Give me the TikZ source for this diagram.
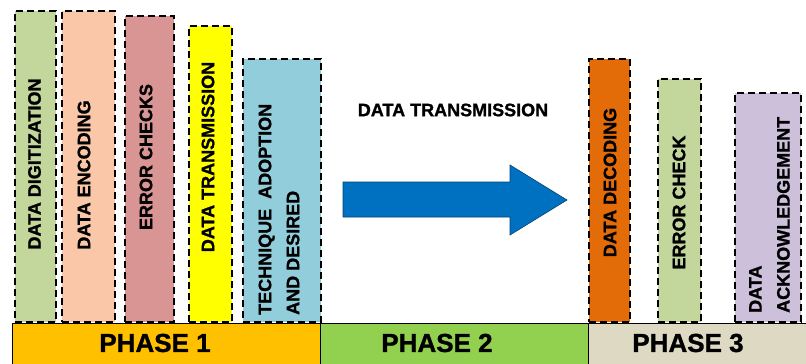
\documentclass[tikz,border=0pt]{standalone}
\usepackage{fontspec}
\setmainfont{Liberation Sans}[BoldFeatures={FakeBold=1.2}]
\definecolor{digit}{HTML}{C3D69B}
\definecolor{encode}{HTML}{FAC8A8}
\definecolor{errchk}{HTML}{D99594}
\definecolor{trans}{HTML}{FFFF00}
\definecolor{techn}{HTML}{92CDDC}
\definecolor{decode}{HTML}{E36C09}
\definecolor{errchkb}{HTML}{C3D69B}
\definecolor{ackn}{HTML}{CCC0DA}
\definecolor{phaseA}{HTML}{FFC000}
\definecolor{phaseB}{HTML}{92D050}
\definecolor{phaseC}{HTML}{DDD9C3}
\definecolor{arrowblue}{HTML}{0070C0}
\tikzset{
	bar/.style={draw, dash pattern=on 7pt off 4pt, line width=1.8pt, inner sep=0pt, anchor=south west},
	lbl/.style={rotate=90, inner sep=0pt, align=left, font=\fontsize{18}{28}\selectfont\bfseries},
	phase/.style={draw, line width=1.4pt, inner sep=0pt, anchor=north west, minimum height=45pt},
	phasetxt/.style={font=\fontsize{26}{30}\selectfont\bfseries}
}
\begin{document}
\begin{tikzpicture}[x=1pt, y=-1pt]
	\useasboundingbox (0,0) rectangle (806,364);
	% phase 1 bars
	\node[bar, fill=digit, minimum width=41pt, minimum height=311pt] (dig) at (14,323) {};
	\node[bar, fill=encode, minimum width=53pt, minimum height=311pt] (enc) at (61,323) {};
	\node[bar, fill=errchk, minimum width=49pt, minimum height=306pt] (chk) at (124,323) {};
	\node[bar, fill=trans, minimum width=43pt, minimum height=296pt] (trn) at (188,323) {};
	\node[bar, fill=techn, minimum width=78pt, minimum height=263pt] (tec) at (242,323) {};
	\node[lbl] (diglbl) at (34.5,164) {DATA DIGITIZATION};
	\node[lbl] (enclbl) at (84,175) {DATA ENCODING};
	\node[lbl] (chklbl) at (146,157) {ERROR CHECKS};
	\node[lbl] (trnlbl) at (208,157) {DATA TRANSMISSION};
	\node[lbl, anchor=west] (teclbl) at (279,315) {TECHNIQUE\ \ ADOPTION\\AND DESIRED};
	% phase 2
	\node[font=\fontsize{18}{22}\selectfont\bfseries] (title) at (453,110) {DATA TRANSMISSION};
	\fill[arrowblue, draw=arrowblue!60!black, line width=0.6pt] (343,182) -- (510,182) -- (510,165)
		-- (567,200) -- (510,235) -- (510,217) -- (343,217) -- cycle;
	% phase 3 bars
	\node[bar, fill=decode, minimum width=41pt, minimum height=263pt] (dec) at (588,323) {};
	\node[bar, fill=errchkb, minimum width=43pt, minimum height=243pt] (chkb) at (657,323) {};
	\node[bar, fill=ackn, minimum width=66pt, minimum height=229pt] (ack) at (734,323) {};
	\node[lbl] (declbl) at (610,182.5) {DATA DECODING};
	\node[lbl] (chkblbl) at (679,202.5) {ERROR CHECK};
	\node[lbl, anchor=west] (acklbl) at (769.5,313) {DATA\\ACKNOWLEDGEMENT};
	% phase bands
	\node[phase, fill=phaseA, minimum width=308pt] (pa) at (12,323) {};
	\node[phase, fill=phaseB, minimum width=268pt] (pb) at (320,323) {};
	\node[phase, fill=phaseC, minimum width=220pt] (pc) at (588,323) {};
	\node[phasetxt] (patxt) at (155,343) {PHASE 1};
	\node[phasetxt] (pbtxt) at (437,343) {PHASE 2};
	\node[phasetxt] (pctxt) at (688,343) {PHASE 3};
\end{tikzpicture}
\end{document}
